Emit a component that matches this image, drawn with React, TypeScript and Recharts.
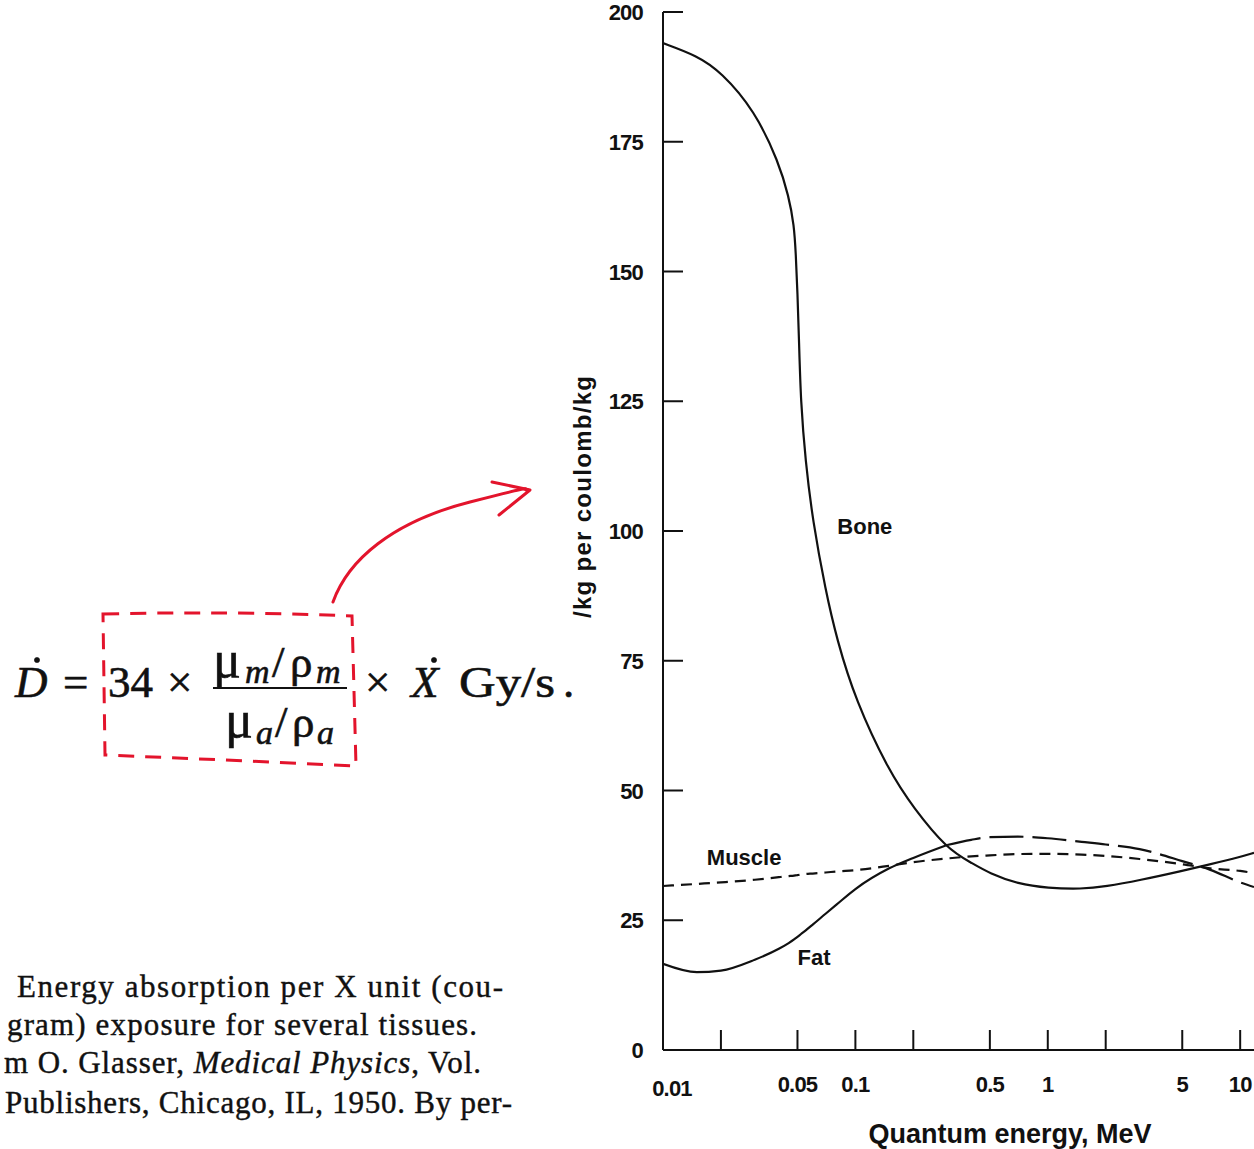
import React from "react";
import { LineChart, Line, XAxis, YAxis, ReferenceDot } from "recharts";

// energies in MeV (log axis)
const energies = [0.01, 0.015, 0.02, 0.03, 0.04, 0.045, 0.048, 0.049, 0.05, 0.051, 0.052, 0.055, 0.06, 0.07, 0.08, 0.1, 0.15, 0.2, 0.3, 0.4, 0.5, 0.7, 1, 1.5, 2, 3, 5, 7, 10, 11.8];
const bone = [194, 191.6, 188.5, 181, 171, 164.5, 159, 153.5, 146, 136, 125, 113.5, 102, 88.5, 79.2, 67.4, 53.6, 46.7, 38.7, 36.1, 34, 32, 31.2, 31, 31.5, 32.7, 34.5, 35.8, 37.2, 38];
const muscle = [31.6, 32.0, 32.3, 32.8, 33.3, 33.5, 33.6, 33.65, 33.7, 33.75, 33.8, 33.9, 34.0, 34.2, 34.4, 34.65, 35.5, 36.2, 36.9, 37.3, 37.5, 37.75, 37.8, 37.65, 37.4, 36.8, 35.8, 35.0, 34.5, 34.1];
const fat = [16.6, 15.0, 15.3, 17.4, 19.5, 20.6, 21.3, 21.55, 21.8, 22.05, 22.3, 23.0, 24.15, 26.25, 28.05, 31.0, 35.0, 37.0, 39.5, 40.5, 41, 41.1, 40.8, 40.1, 39.6, 38.7, 36.4, 34.7, 32.3, 31.4];
const fatDashFrom = 0.3;

const yTicks = [0, 25, 50, 75, 100, 125, 150, 175, 200];
const xTicks = [0.01, 0.02, 0.05, 0.1, 0.2, 0.5, 1, 2, 5, 10];
const xLabelled = [0.01, 0.05, 0.1, 0.5, 1, 5, 10];

const curveLabels = [
  { name: "Bone", e: 0.112, v: 101 },
  { name: "Muscle", e: 0.0264, v: 37.2 },
  { name: "Fat", e: 0.061, v: 17.9 },
];

const rows = energies.map((e, i) => ({
  e,
  bone: bone[i],
  muscle: muscle[i],
  fatLow: e <= fatDashFrom ? fat[i] : null,
  fatHigh: e >= fatDashFrom ? fat[i] : null,
}));

const INK = "#111";
const RED = "#e3142c";
const SANS = "'Liberation Sans', Arial, sans-serif";
const SERIF = "'Liberation Serif', 'Times New Roman', serif";
const TICK_GAP = 20;
const TICK_LEN = 20;

function YTick(props: any) {
  const { x, y, payload } = props;
  const ax = x + TICK_GAP;
  return (
    <g>
      <line x1={ax} x2={ax + TICK_LEN} y1={y} y2={y} stroke={INK} strokeWidth={2} />
      <text x={x} y={y} dy={8} textAnchor="end" fill={INK} fontSize={22} fontWeight={700} fontFamily={SANS} letterSpacing={-0.8}>
        {payload.value}
      </text>
    </g>
  );
}

function XTick(props: any) {
  const { x, y, payload } = props;
  const v = payload.value;
  return (
    <g>
      {v !== 0.01 && <line x1={x} x2={x} y1={y} y2={y - TICK_LEN} stroke={INK} strokeWidth={2} />}
      {xLabelled.includes(v) && (
        <text x={v === 0.01 ? x + 9 : x} y={y} dy={v === 0.01 ? 46 : 42} textAnchor="middle" fill={INK} fontSize={22} fontWeight={700} fontFamily={SANS} letterSpacing={-0.8}>
          {String(v)}
        </text>
      )}
    </g>
  );
}

function Annotations() {
  const sub = { fontStyle: "italic" as const, fontSize: 34 };
  return (
    <svg width={1254} height={1149} style={{ position: "absolute", left: 0, top: 0, pointerEvents: "none" }}>
      {/* axis titles */}
      <text x={582} y={497} transform="rotate(-90 582 497)" textAnchor="middle" dominantBaseline="central" fill={INK} fontSize={24} fontWeight={700} fontFamily={SANS} textLength={242} lengthAdjust="spacing">
        /kg per coulomb/kg
      </text>
      <text x={1010} y={1143} textAnchor="middle" fill={INK} fontSize={27} fontWeight={700} fontFamily={SANS}>
        Quantum energy, MeV
      </text>

      {/* formula */}
      <g fill={INK} stroke={INK} strokeWidth={0.6} fontFamily={SERIF} fontSize={45}>
        <text x={15} y={697} fontStyle="italic">D</text>
        <circle cx={37} cy={660} r={2.6} />
        <text x={63} y={697}>=</text>
        <text x={108} y={697}>34</text>
        <text x={167} y={697}>×</text>
        <text y={677}>
          <tspan x={213} fontSize={52}>μ</tspan>
          <tspan x={245} dy={6} {...sub}>m</tspan>
          <tspan x={272} dy={-6}>/</tspan>
          <tspan x={290}>ρ</tspan>
          <tspan x={316} dy={6} {...sub}>m</tspan>
        </text>
        <line x1={213} x2={347} y1={688} y2={688} stroke={INK} strokeWidth={2} />
        <text y={737}>
          <tspan x={225} fontSize={52}>μ</tspan>
          <tspan x={256} dy={7} {...sub}>a</tspan>
          <tspan x={275} dy={-7}>/</tspan>
          <tspan x={292}>ρ</tspan>
          <tspan x={317} dy={7} {...sub}>a</tspan>
        </text>
        <text x={365} y={697}>×</text>
        <text x={411} y={697} fontStyle="italic">X</text>
        <circle cx={434} cy={660} r={2.6} />
        <text x={459} y={697} textLength={96} lengthAdjust="spacingAndGlyphs">Gy/s</text>
        <text x={563} y={697}>.</text>
      </g>

      {/* red marking */}
      <path d="M103 614 Q 230 611 352 616 L 356 766 Q 230 760 105 755 Z" fill="none" stroke={RED} strokeWidth={3} strokeDasharray="16 11" />
      <path d="M 333 602 C 348 560, 392 522, 470 502 S 518 491, 528 490" fill="none" stroke={RED} strokeWidth={3} strokeLinecap="round" />
      <path d="M 492 482 L 530 490 L 499 515" fill="none" stroke={RED} strokeWidth={3} strokeLinecap="round" strokeLinejoin="round" />

      {/* caption */}
      <g fill={INK} stroke={INK} strokeWidth={0.4} fontFamily={SERIF} fontSize={31}>
        <text x={17} y={997} textLength={486} lengthAdjust="spacing">Energy absorption per X unit (cou-</text>
        <text x={7} y={1035} textLength={470} lengthAdjust="spacing">gram) exposure for several tissues.</text>
        <text x={4} y={1073} textLength={477} lengthAdjust="spacing">
          m O. Glasser, <tspan fontStyle="italic">Medical Physics</tspan>, Vol.
        </text>
        <text x={5} y={1113} textLength={507} lengthAdjust="spacing">Publishers, Chicago, IL, 1950. By per-</text>
      </g>
    </svg>
  );
}

export default function App() {
  return (
    <div style={{ position: "absolute", left: 0, top: 0, width: 1254, height: 1149, background: "#fff", overflow: "hidden" }}>
      <LineChart width={1254} height={1149} data={rows} margin={{ top: 12, right: 0, bottom: 0, left: 603 }}>
        <XAxis
          dataKey="e"
          type="number"
          scale="log"
          domain={[0.01, 11.8]}
          allowDataOverflow
          ticks={xTicks}
          interval={0}
          tickSize={0}
          tickMargin={0}
          tick={<XTick />}
          axisLine={{ stroke: INK, strokeWidth: 2 }}
          height={99}
        />
        <YAxis
          type="number"
          domain={[0, 200]}
          ticks={yTicks}
          interval={0}
          tickSize={0}
          tickMargin={TICK_GAP}
          tick={<YTick />}
          axisLine={{ stroke: INK, strokeWidth: 2 }}
          width={60}
        />
        <Line dataKey="bone" type="basis" stroke={INK} strokeWidth={2.2} dot={false} isAnimationActive={false} />
        <Line dataKey="muscle" type="monotone" stroke={INK} strokeWidth={2.2} strokeDasharray="11 7" dot={false} isAnimationActive={false} />
        <Line dataKey="fatLow" type="monotone" stroke={INK} strokeWidth={2.2} dot={false} connectNulls={false} isAnimationActive={false} />
        <Line dataKey="fatHigh" type="monotone" stroke={INK} strokeWidth={2.2} strokeDasharray="34 9" dot={false} connectNulls={false} isAnimationActive={false} />
        {curveLabels.map((c) => (
          <ReferenceDot
            key={c.name}
            x={c.e}
            y={c.v}
            r={0}
            fill="none"
            stroke="none"
            label={{ value: c.name, position: "center", fill: INK, fontSize: 22, fontWeight: 700, fontFamily: SANS }}
          />
        ))}
      </LineChart>
      <Annotations />
    </div>
  );
}
